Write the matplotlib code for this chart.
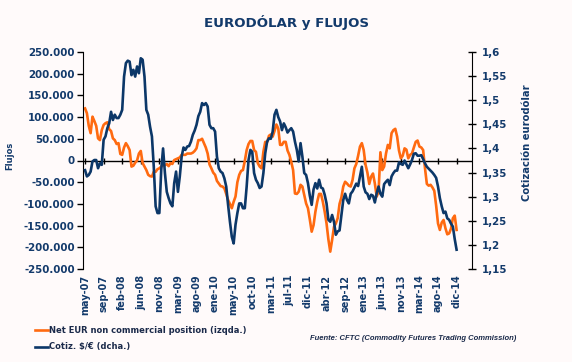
import matplotlib
matplotlib.use("Agg")
import matplotlib.pyplot as plt
import numpy as np

# data every 2 weeks, may-07 .. dic-14 (x = week number)
weeks = np.arange(0, 401, 2)

# Net EUR non commercial position (thousands of contracts), left axis
flujos_k = [120, 109, 80, 63, 101, 91, 80, 51, 47, 70,
            82, 86, 88, 72, 68, 51, 47, 38, 40, 15,
            13, 30, 40, 33, 24, -14, -12, -5, 0, 16,
            22, -6, -14, -22, -33, -36, -37, -26, -26, -20,
            -18, -14, -10, -11, -8, -13, -6, -8, 1, 3,
            5, 7, 13, 13, 13, 16, 16, 16, 18, 22,
            28, 47, 47, 50, 40, 30, 16, -9, -18, -28,
            -33, -47, -53, -59, -60, -64, -77, -91, -100, -110,
            -95, -83, -50, -33, -24, -22, -1, 24, 38, 45,
            45, 24, 20, -6, -14, -18, 20, 43, 42, 57,
            60, 55, 68, 83, 74, 36, 36, 43, 43, 23,
            13, -3, -22, -76, -77, -72, -56, -60, -80, -99,
            -110, -136, -164, -149, -118, -95, -77, -77, -95, -118,
            -145, -182, -210, -183, -153, -145, -133, -100, -85, -60,
            -49, -53, -58, -60, -45, -18, -8, 11, 32, 40,
            24, -10, -28, -54, -37, -30, -53, -83, -72, 19,
            -22, -14, 16, 36, 28, 63, 70, 73, 55, 23,
            5, 11, 28, 25, 5, 13, 16, 30, 43, 46,
            32, 30, 24, -18, -54, -58, -56, -62, -70, -104,
            -145, -160, -143, -137, -156, -170, -168, -157, -133, -127,
            -160]
flujos = np.array(flujos_k) * 1000

# Cotizacion $/EUR, right axis
cotiz = [1.355, 1.342, 1.345, 1.352, 1.373, 1.376, 1.376, 1.359, 1.369, 1.366,
         1.418, 1.425, 1.442, 1.452, 1.476, 1.459, 1.470, 1.463, 1.463, 1.470,
         1.480, 1.549, 1.577, 1.582, 1.580, 1.552, 1.563, 1.549, 1.570, 1.556,
         1.587, 1.584, 1.549, 1.480, 1.470, 1.445, 1.425, 1.362, 1.280, 1.266,
         1.266, 1.355, 1.400, 1.349, 1.310, 1.297, 1.286, 1.280, 1.328, 1.352,
         1.310, 1.342, 1.383, 1.402, 1.397, 1.404, 1.405, 1.414, 1.428, 1.437,
         1.449, 1.467, 1.476, 1.494, 1.490, 1.494, 1.487, 1.449, 1.442, 1.442,
         1.435, 1.383, 1.359, 1.352, 1.349, 1.338, 1.321, 1.283, 1.248, 1.217,
         1.203, 1.242, 1.266, 1.286, 1.286, 1.276, 1.276, 1.321, 1.376, 1.397,
         1.393, 1.349, 1.335, 1.328, 1.318, 1.321, 1.349, 1.390, 1.414, 1.421,
         1.420, 1.435, 1.470, 1.480, 1.465, 1.456, 1.438, 1.452, 1.444, 1.433,
         1.438, 1.442, 1.435, 1.414, 1.397, 1.373, 1.411, 1.383, 1.349, 1.345,
         1.328, 1.302, 1.283, 1.315, 1.328, 1.317, 1.335, 1.319, 1.317, 1.304,
         1.286, 1.252, 1.248, 1.262, 1.248, 1.221, 1.228, 1.230, 1.262, 1.293,
         1.306, 1.293, 1.286, 1.306, 1.311, 1.319, 1.327, 1.322, 1.342, 1.362,
         1.321, 1.309, 1.306, 1.295, 1.304, 1.302, 1.288, 1.307, 1.321, 1.306,
         1.300, 1.326, 1.331, 1.335, 1.324, 1.342, 1.349, 1.354, 1.354, 1.371,
         1.368, 1.366, 1.375, 1.367, 1.359, 1.367, 1.376, 1.389, 1.390, 1.385,
         1.385, 1.386, 1.378, 1.369, 1.362, 1.358, 1.354, 1.350, 1.345, 1.339,
         1.321, 1.297, 1.280, 1.266, 1.269, 1.255, 1.252, 1.244, 1.238, 1.212,
         1.190]

tick_weeks = np.arange(0, 401, 20)
tick_labels = ['may-07', 'sep-07', 'feb-08', 'jun-08', 'nov-08', 'mar-09', 'ago-09',
               'ene-10', 'may-10', 'oct-10', 'mar-11', 'jul-11', 'dic-11', 'abr-12',
               'sep-12', 'ene-13', 'jun-13', 'nov-13', 'mar-14', 'ago-14', 'dic-14']

bg = '#fffafa'
orange = '#ff6a10'
navy = '#0c3768'
txt = '#133a6b'

fig = plt.figure(figsize=(5.72, 3.62), dpi=100, facecolor=bg)
ax = fig.add_axes([83/572, 1-269/362, (472-83)/572, (269-52)/362])
ax.set_facecolor(bg)

# x axis crosses at 0 with its tick marks
ax.axhline(0, color='black', lw=1, zorder=1)
ax.plot(tick_weeks, np.zeros(len(tick_weeks)), ls='none', marker='|', ms=5,
        mew=1, color='black', zorder=1)
l1, = ax.plot(weeks, flujos, color=orange, lw=1.9, zorder=2)
ax.set_ylim(-250000, 250000)
ax.set_xlim(-2.2, 416.6)

ax2 = ax.twinx()
l2, = ax2.plot(weeks, cotiz, color=navy, lw=1.9)
ax2.set_ylim(1.15, 1.6)

for s in ['top', 'bottom', 'right']:
    ax.spines[s].set_visible(False)
for s in ['top', 'bottom', 'left']:
    ax2.spines[s].set_visible(False)
ax.spines['left'].set_color('black')
ax2.spines['right'].set_color('black')

yt = np.arange(-250000, 250001, 50000)
ax.set_yticks(yt)
ax.set_yticklabels([f"{int(v):,}".replace(',', '.') for v in yt])
ax.tick_params(axis='y', direction='out', length=4, width=1, pad=2,
               labelsize=7.4, labelcolor=txt)

yt2 = np.arange(1.15, 1.601, 0.05)
ax2.set_yticks(yt2)
ax2.set_yticklabels([f"{v:.2f}".rstrip('0').rstrip('.').replace('.', ',') for v in yt2])
ax2.tick_params(axis='y', direction='inout', length=6, width=1, pad=4,
                labelsize=7.4, labelcolor=txt)

ax.set_xticks(tick_weeks)
ax.set_xticklabels(tick_labels, rotation=90)
ax.tick_params(axis='x', length=0, pad=4, labelsize=7, labelcolor=txt)

for lab in ax.get_yticklabels() + ax2.get_yticklabels() + ax.get_xticklabels():
    lab.set_fontweight('bold')

fig.text(287/572, 1-22/362, 'EURODÓLAR y FLUJOS', ha='center', va='center',
         fontsize=9.6, fontweight='bold', color=txt)
fig.text(10/572, 1-156/362, 'Flujos', rotation=90, ha='center', va='center',
         fontsize=6, fontweight='bold', color=txt)
fig.text(527/572, 1-143/362, 'Cotización eurodólar', rotation=90, ha='center',
         va='center', fontsize=7.2, fontweight='bold', color=txt)
fig.text(310/572, 1-338/362, 'Fuente: CFTC (Commodity Futures Trading Commission)',
         ha='left', va='center', fontsize=5.5, fontweight='bold', style='italic',
         family='Liberation Sans', color='#1b2a4a')

fig.legend(handles=[l1, l2],
           labels=['Net EUR non commercial position (izqda.)', 'Cotiz. $/€ (dcha.)'],
           loc='upper left', bbox_to_anchor=(35/572, 1-326/362), frameon=False,
           prop={'size': 6, 'weight': 'bold'}, labelcolor='#1b2a4a',
           handlelength=1.6, handletextpad=0.1, labelspacing=0.9,
           borderaxespad=0, borderpad=0)

fig.savefig('out.png', dpi=100, facecolor=bg)
